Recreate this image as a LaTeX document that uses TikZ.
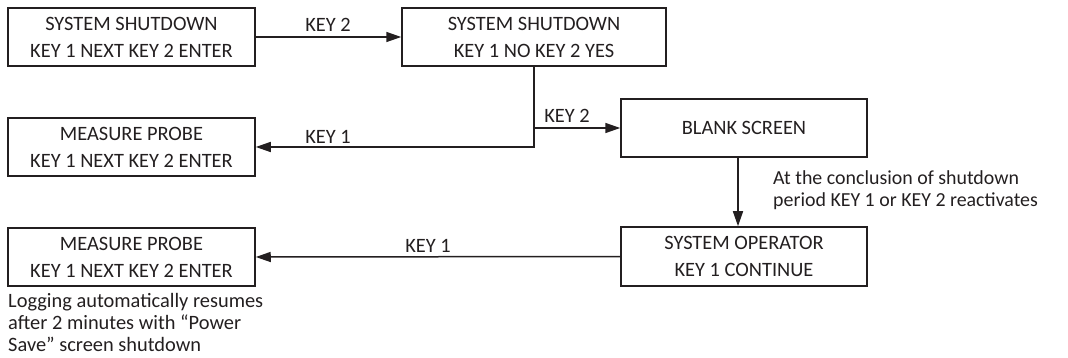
\documentclass[tikz,border=0pt]{standalone}
\usepackage{fontspec}
\setmainfont{Carlito}
\usetikzlibrary{arrows.meta}
\definecolor{ink}{HTML}{231F20}
\begin{document}
\begin{tikzpicture}[x=1pt,y=-1pt,
  box/.style={draw=ink,line width=1.5pt,minimum height=58pt,inner sep=0pt,align=center,font=\fontsize{20.4}{27}\selectfont,text=ink},
  arr/.style={draw=ink,line width=1.5pt,-{Triangle[length=15pt,width=10pt]}},
  lbl/.style={font=\fontsize{20.4}{23}\selectfont,text=ink,inner sep=0pt},
  note/.style={font=\fontsize{20.4}{22}\selectfont,text=ink,align=left,inner sep=0pt}]
\useasboundingbox (0,0) rectangle (1068,358);
\node[box,minimum width=247pt] (A) at (131.5,37) {SYSTEM SHUTDOWN\\KEY 1 NEXT KEY 2 ENTER};
\node[box,minimum width=264pt] (B) at (534,37) {SYSTEM SHUTDOWN\\KEY 1 NO KEY 2 YES};
\node[box,minimum width=247pt] (C) at (131.5,147) {MEASURE PROBE\\KEY 1 NEXT KEY 2 ENTER};
\node[box,minimum width=246pt] (D) at (744,128) {BLANK SCREEN};
\node[box,minimum width=246pt,minimum height=59pt] (E) at (744,256.5) {SYSTEM OPERATOR\\KEY 1 CONTINUE};
\node[box,minimum width=247pt] (F) at (131.5,257) {MEASURE PROBE\\KEY 1 NEXT KEY 2 ENTER};
\draw[arr] (A.east) -- (B.west);
\draw[arr] (B.south) |- (C.east);
\draw[arr] (B.south |- D.west) -- (D.west);
\draw[arr] ([xshift=-6pt]D.south) -- ([xshift=-6pt]E.north);
\draw[arr] (E.west) -- (F.east);
\node[lbl] (l1) at (328,25) {KEY 2};
\node[lbl] (l2) at (328,137) {KEY 1};
\node[lbl] (l3) at (567,116) {KEY 2};
\node[lbl] (l4) at (428,246) {KEY 1};
\node[note,anchor=west,font=\fontsize{19.9}{21.5}\selectfont] (n1) at (773,190) {At the conclusion of shutdown\\period KEY 1 or KEY 2 reactivates};
\node[note,anchor=north west] (n2) at (8,293) {Logging automatically resumes\\after 2 minutes with “Power\\Save” screen shutdown};
\end{tikzpicture}
\end{document}
